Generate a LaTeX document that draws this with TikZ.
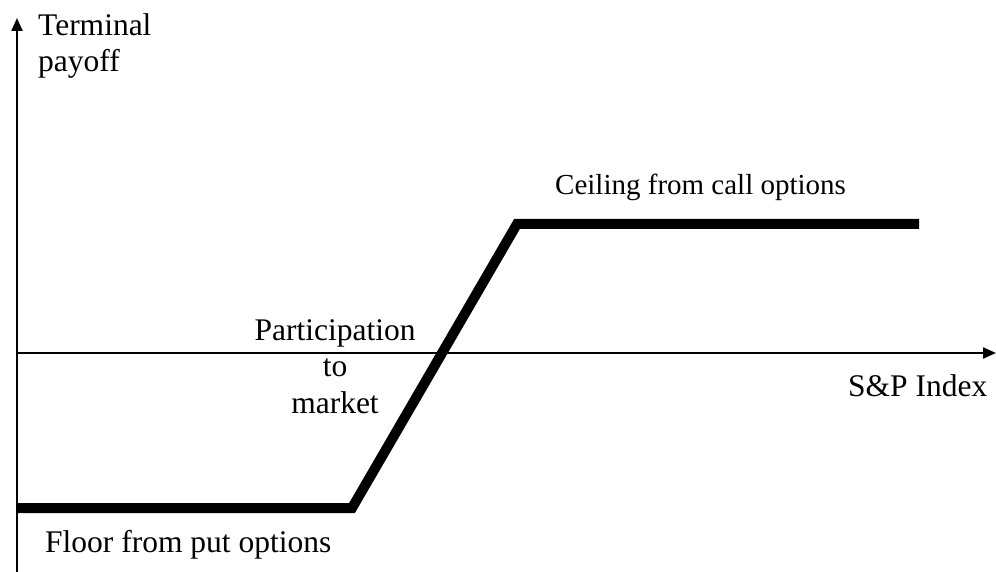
\documentclass[tikz,border=0pt]{standalone}
\usepackage{fontspec}
\setmainfont{Liberation Serif}
\usetikzlibrary{arrows.meta}
\begin{document}
\begin{tikzpicture}[x=1pt,y=-1pt,
        axis/.style={line width=2.2pt,-{Triangle[length=13pt,width=11pt]}},
        payoff/.style={line width=10pt},
        lbl/.style={inner sep=0pt,font=\fontsize{31.5}{36.5}\selectfont}]
        \useasboundingbox (0,0) rectangle (996,572);

        \coordinate (ybot) at (17,572);
        \coordinate (ytop) at (17,18);
        \coordinate (xbeg) at (17,353);
        \coordinate (xend) at (996,353);
        \coordinate (F0) at (17,508);
        \coordinate (F1) at (352,508);
        \coordinate (C0) at (517,224);
        \coordinate (C1) at (919,224);

        \draw[axis] (ybot) -- (ytop);
        \draw[axis] (xbeg) -- (xend);
        \draw[payoff] (F0) -- (F1) -- (C0) -- (C1);

        \begin{scope}[every node/.style={lbl}]
            \node (ylab) at (38,72) [anchor=base west,align=left] {Terminal\\payoff};
            \node (xlab) at (848,396) [anchor=base west] {S\&P Index};
            \node (ceil) at (555,195) [anchor=base west,font=\fontsize{29}{34}\selectfont] {Ceiling from call options};
            \node (floor) at (45,552) [anchor=base west] {Floor from put options};
            \node (part) at (335,413) [anchor=base,align=center] {Participation\\to\\market};
        \end{scope}
    \end{tikzpicture}
\end{document}
